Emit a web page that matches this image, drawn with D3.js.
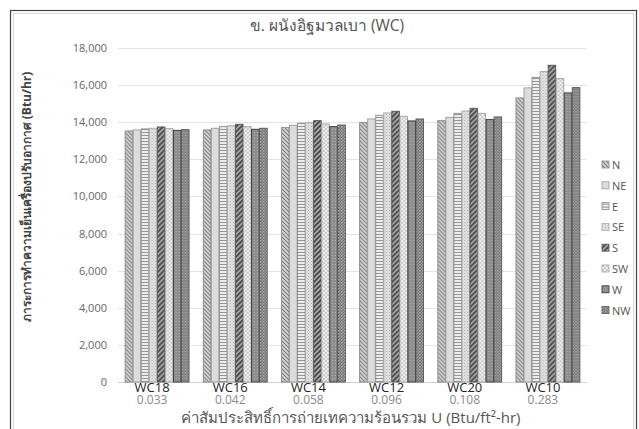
<!DOCTYPE html>
<html>
<head>
<meta charset="utf-8">
<script src="https://cdn.jsdelivr.net/npm/d3@7"></script>
<style>
  html, body { margin: 0; padding: 0; background: #fff; }
  svg { display: block; font-family: "Open Sans", "Noto Sans", "DejaVu Sans", sans-serif; }
</style>
</head>
<body>
<svg id="chart" width="639" height="429"></svg>
<script>
// Wall types and their overall U-values
const categories = ["WC18", "WC16", "WC14", "WC12", "WC20", "WC10"];
const uValues = ["0.033", "0.042", "0.058", "0.096", "0.108", "0.283"];
// Orientations
const series = ["N", "NE", "E", "SE", "S", "SW", "W", "NW"];
// Cooling load (Btu/hr) per orientation, one array per wall type
const loadWC18 = [13530, 13585, 13640, 13675, 13745, 13655, 13565, 13600];
const loadWC16 = [13585, 13675, 13760, 13815, 13890, 13760, 13620, 13675];
const loadWC14 = [13710, 13835, 13945, 13980, 14085, 13905, 13760, 13850];
const loadWC12 = [13980, 14175, 14375, 14500, 14590, 14320, 14070, 14175];
const loadWC20 = [14085, 14265, 14480, 14605, 14750, 14480, 14140, 14285];
const loadWC10 = [15310, 15850, 16420, 16730, 17070, 16350, 15580, 15865];
const yTicks = [0, 2000, 4000, 6000, 8000, 10000, 12000, 14000, 16000, 18000];

const loads = [loadWC18, loadWC16, loadWC14, loadWC12, loadWC20, loadWC10];
const data = categories.map((c, i) => ({ cat: c, u: uValues[i], values: loads[i] }));

const svg = d3.select("#chart");
const plot = { left: 118, right: 587, top: 48, bottom: 382 };

// Frame
svg.append("rect").attr("x", 10.5).attr("y", 10.5).attr("width", 626).attr("height", 430)
  .attr("fill", "#fff").attr("stroke", "#444").attr("stroke-width", 1.2);
svg.append("rect").attr("x", 13.5).attr("y", 13.5).attr("width", 620).attr("height", 430)
  .attr("fill", "none").attr("stroke", "#d6d6d6").attr("stroke-width", 1);

// Fill patterns for each orientation
const defs = svg.append("defs");
function pat(id, size, bg, draw) {
  const p = defs.append("pattern").attr("id", id).attr("patternUnits", "userSpaceOnUse")
    .attr("width", size).attr("height", size);
  p.append("rect").attr("width", size).attr("height", size).attr("fill", bg);
  draw(p);
  return "url(#" + id + ")";
}
const fills = {
  N: pat("pN", 4, "#d8d8d8", p => {
    p.append("path").attr("d", "M0,0 L4,4 M-1,3 L1,5 M3,-1 L5,1").attr("stroke", "#7a7a7a").attr("stroke-width", 1.1);
  }),
  NE: pat("pNE", 4, "#dcdcdc", p => {}),
  E: pat("pE", 3, "#ededed", p => {
    p.append("path").attr("d", "M0,0.5 L3,0.5").attr("stroke", "#8a8a8a").attr("stroke-width", 0.9);
  }),
  SE: pat("pSE", 3, "#e6e6e6", p => {
    p.append("rect").attr("x", 0).attr("y", 0).attr("width", 1).attr("height", 1).attr("fill", "#a5a5a5");
    p.append("rect").attr("x", 1.5).attr("y", 1.5).attr("width", 1).attr("height", 1).attr("fill", "#b5b5b5");
  }),
  S: pat("pS", 5, "#a8a8a8", p => {
    p.append("path").attr("d", "M0,5 L5,0 M-1,1 L1,-1 M4,6 L6,4").attr("stroke", "#444").attr("stroke-width", 1.6);
  }),
  SW: pat("pSW", 4, "#eeeeee", p => {
    p.append("path").attr("d", "M0,1 L2,1 M2,3 L4,3").attr("stroke", "#a0a0a0").attr("stroke-width", 0.9);
  }),
  W: pat("pW", 3, "#8e8e8e", p => {
    p.append("rect").attr("x", 0).attr("y", 0).attr("width", 1).attr("height", 1).attr("fill", "#b0b0b0");
  }),
  NW: pat("pNW", 3, "#6e6e6e", p => {
    p.append("rect").attr("x", 0).attr("y", 0).attr("width", 1.5).attr("height", 1.5).attr("fill", "#b8b8b8");
    p.append("rect").attr("x", 1.5).attr("y", 1.5).attr("width", 1.5).attr("height", 1.5).attr("fill", "#9a9a9a");
  })
};
const strokes = { N: "#8a8a8a", NE: "#9a9a9a", E: "#8e8e8e", SE: "#a8a8a8", S: "#555", SW: "#a0a0a0", W: "#333", NW: "#555" };

// Scales
const x0 = d3.scaleBand().domain(categories).range([plot.left, plot.right])
  .paddingInner(0.17).paddingOuter(0.085);
const x1 = d3.scaleBand().domain(series).range([0, x0.bandwidth()]).padding(0.06);
const y = d3.scaleLinear().domain([0, 18000]).range([plot.bottom, plot.top]);

// Gridlines
svg.append("g").selectAll("line").data(yTicks).join("line")
  .attr("x1", plot.left).attr("x2", plot.right)
  .attr("y1", d => Math.round(y(d)) + 0.5).attr("y2", d => Math.round(y(d)) + 0.5)
  .attr("stroke", d => d === 0 ? "#d0d0d0" : "#e4e4e4").attr("stroke-width", 1);

// Y axis labels
const yAxis = d3.axisLeft(y).tickValues(yTicks).tickFormat(d3.format(",")).tickSize(0).tickPadding(0);
const gy = svg.append("g").attr("transform", `translate(${plot.left - 11},0)`).call(yAxis);
gy.select(".domain").remove();
gy.selectAll("text").attr("fill", "#666").attr("font-size", 11)
  .attr("font-family", "\"Open Sans\", sans-serif");

// Bars
const groups = svg.append("g").selectAll("g").data(data).join("g")
  .attr("transform", d => `translate(${x0(d.cat)},0)`);
groups.selectAll("rect").data(d => d.values.map((v, i) => ({ key: series[i], v }))).join("rect")
  .attr("x", d => x1(d.key))
  .attr("y", d => y(d.v))
  .attr("width", x1.bandwidth())
  .attr("height", d => y(0) - y(d.v))
  .attr("fill", d => fills[d.key])
  .attr("stroke", d => strokes[d.key])
  .attr("stroke-width", 0.9);

// Category labels (name + U-value)
const cl = svg.append("g").selectAll("g").data(data).join("g")
  .attr("transform", d => `translate(${x0(d.cat) + x0.bandwidth() / 2 - 5},0)`);
cl.append("text").attr("y", 392).attr("text-anchor", "middle")
  .attr("font-size", 13).attr("fill", "#222").text(d => d.cat);
cl.append("text").attr("y", 404).attr("text-anchor", "middle")
  .attr("font-size", 12).attr("fill", "#8a8a8a").text(d => d.u);

// Title
svg.append("text").attr("x", 327).attr("y", 31).attr("text-anchor", "middle")
  .attr("font-size", 15.5).attr("fill", "#555").text("ข. ผนังอิฐมวลเบา (WC)");

// Axis titles
svg.append("text").attr("transform", "translate(31,197) rotate(-90)").attr("text-anchor", "middle")
  .attr("font-size", 12).attr("font-weight", "bold").attr("fill", "#444")
  .text("ภาระการทำความเย็นเครื่องปรับอากาศ (Btu/hr)");
svg.append("text").attr("x", 351).attr("y", 423).attr("text-anchor", "middle")
  .attr("font-size", 15).attr("fill", "#555")
  .text("ค่าสัมประสิทธิ์การถ่ายเทความร้อนรวม U (Btu/ft²-hr)");

// Legend
const lg = svg.append("g").selectAll("g").data(series).join("g")
  .attr("transform", (d, i) => `translate(602,${165 + i * 20.8})`);
lg.append("rect").attr("x", 0).attr("y", -4).attr("width", 7).attr("height", 7)
  .attr("fill", d => fills[d]).attr("stroke", d => strokes[d]).attr("stroke-width", 0.8);
lg.append("text").attr("x", 10).attr("y", 4).attr("font-size", 11).attr("fill", "#555").text(d => d);
</script>
</body>
</html>
